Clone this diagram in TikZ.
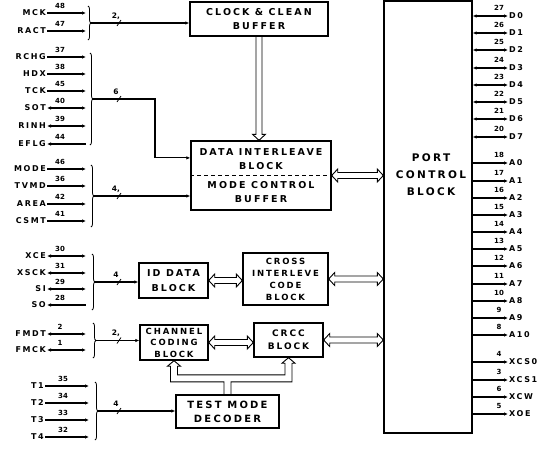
\documentclass[tikz,border=0pt]{standalone}
\usepackage{fontspec}
\setsansfont{DejaVu Sans}
\newfontfamily\lblfont[LetterSpace=20]{DejaVu Sans}
\newfontfamily\blkfont[LetterSpace=22]{DejaVu Sans}
\usetikzlibrary{arrows.meta,positioning,calc,decorations.pathreplacing}

% horizontal hollow double arrow between two points
\newcommand{\widebus}[2]{%
  \draw[hollow] (#1) -- ++(6,-6.5) -- ++(0,3.5) -- ($(#2)+(-6,-3)$) -- ++(0,-3.5) -- (#2)
    -- ++(-6,6.5) -- ++(0,-3.5) -- ($(#1)+(6,3)$) -- ++(0,3.5) -- cycle;}

\tikzset{
  buswidth/.pic={\draw[line width=.8pt] (-2,3) -- (2,-3);
    \node[busnum] (-n) at (-3,-7) {#1};}
}

\begin{document}
\begin{tikzpicture}[x=1pt,y=-1pt,>={Latex[length=4pt,width=3.5pt]},
  every node/.style={inner sep=1pt},
  block/.style={draw,line width=1.4pt,inner sep=0pt,align=center,
    font=\blkfont\bfseries\fontsize{9.5}{14}\selectfont},
  blocktext/.style={align=center,font=\blkfont\bfseries\fontsize{10.5}{17}\selectfont},
  pinname/.style={font=\lblfont\bfseries\fontsize{8}{9}\selectfont},
  pinnum/.style={font=\sffamily\bfseries\fontsize{7}{8}\selectfont,inner sep=0pt},
  busnum/.style={font=\sffamily\bfseries\fontsize{7.5}{8}\selectfont,inner sep=0pt},
  wire/.style={line width=1.1pt},
  bus/.style={line width=1.1pt,->},
  brace/.style={decorate,decoration={brace,amplitude=3pt},line width=.8pt},
  hollow/.style={draw,line width=.9pt,line join=miter}]
\fill[white] (0,0) rectangle (542,450);
\useasboundingbox (0,0) rectangle (542,450);

% blocks
\node[block,minimum width=138,minimum height=34] (clock) at (259,19) {CLOCK \& CLEAN\\BUFFER};
\node[block,minimum width=140,minimum height=69] (data) at (261,175.5)
  {DATA INTERLEAVE\\BLOCK\\[5pt]MODE CONTROL\\BUFFER};
\draw[dashed,line width=1pt,dash pattern=on 4pt off 3pt] (data.west) -- (data.east);
\node[block,minimum width=88,minimum height=432] (port) at (428,217) {};
\node[blocktext] (porttext) at (431,175) {PORT\\CONTROL\\BLOCK};
\node[block,minimum width=69,minimum height=35,font=\blkfont\bfseries\fontsize{9.5}{15}\selectfont] (iddata) at (173.5,280.5) {ID DATA\\BLOCK};
\node[block,minimum width=85,minimum height=52,font=\blkfont\bfseries\fontsize{8.5}{12}\selectfont] (cross) at (285.5,279) {CROSS\\INTERLEVE\\CODE\\BLOCK};
\node[block,minimum width=68,minimum height=35,font=\blkfont\bfseries\fontsize{8.5}{11.5}\selectfont] (channel) at (174,342.5) {CHANNEL\\CODING\\BLOCK};
\node[block,minimum width=69,minimum height=34,font=\blkfont\bfseries\fontsize{9}{13}\selectfont] (crcc) at (288.5,340) {CRCC\\BLOCK};
\node[block,minimum width=103,minimum height=33,font=\blkfont\bfseries\fontsize{10}{14}\selectfont] (decoder) at (227.5,411.5) {TEST MODE\\DECODER};

% hollow buses
\draw[hollow] ($(clock.south)+(-3,0)$) -- ($(clock.south |- data.north)+(-3,-6)$) -- ++(-3.5,0)
  -- (clock.south |- data.north) -- ++(6.5,-6) -- ++(-3.5,0) -- ($(clock.south)+(3,0)$);
\widebus{data.east}{port.west |- data.east}
\widebus{iddata.east}{cross.west |- iddata.east}
\widebus{cross.east}{port.west |- cross.east}
\widebus{channel.east}{crcc.west |- channel.east}
\widebus{crcc.east}{port.west |- crcc.east}
\draw[hollow] ($(decoder.north)+(-3.5,0)$) -- ++(0,-12.5) -| ($(channel.south)+(-3.5,5.5)$) -- ++(-3,0)
  -- (channel.south) -- ++(6.5,5.5) -- ++(-3,0) |- ($(decoder.north)+(0,-19.5)$)
  -| ($(crcc.south)+(-3.5,5.5)$) -- ++(-3,0) -- (crcc.south) -- ++(6.5,5.5) -- ++(-3,0)
  |- ($(decoder.north)+(3.5,-12.5)$) -- ++(0,12.5);

% left pins
\foreach \nm/\num/\yy in {MCK/48/13,RACT/47/31,RCHG/37/57,HDX/38/74,TCK/45/91,
    MODE/46/169,TVMD/36/186,AREA/42/204,CSMT/41/221} {
  \node[pinname,anchor=east] (pin\num) at (47,\yy) {\nm};
  \coordinate (end\num) at (86,\yy);
  \node[pinnum] (no\num) at (60,\yy-7) {\num};
  \draw[wire,->] (pin\num) -- (end\num);
}
\foreach \nm/\num/\yy in {SOT/40/108,RINH/39/126,XCE/30/256,XSCK/31/273,SI/29/289,
    FMDT/2/334,FMCK/1/350} {
  \node[pinname,anchor=east] (pin\num) at (47,\yy) {\nm};
  \coordinate (end\num) at (86,\yy);
  \node[pinnum] (no\num) at (60,\yy-7) {\num};
  \draw[wire,<->] (pin\num) -- (end\num);
}
\foreach \nm/\num/\yy in {EFLG/44/144,SO/28/305} {
  \node[pinname,anchor=east] (pin\num) at (47,\yy) {\nm};
  \coordinate (end\num) at (86,\yy);
  \node[pinnum] (no\num) at (60,\yy-7) {\num};
  \draw[wire,<-] (pin\num) -- (end\num);
}
\foreach \nm/\num/\yy in {T1/35/386,T2/34/403,T3/33/420,T4/32/437} {
  \node[pinname,anchor=east] (pin\num) at (45,\yy) {\nm};
  \coordinate (end\num) at (89,\yy);
  \node[pinnum] (no\num) at (63,\yy-7) {\num};
  \draw[wire,->] (pin\num) -- (end\num);
}

% braces and buses to the blocks
\draw[brace] (88,6) -- (88,40);     \coordinate (g1) at (91,23);
\draw[brace] (90,53) -- (90,145);   \coordinate (g2) at (93,99);
\draw[brace] (91,165) -- (91,227);  \coordinate (g3) at (94,196);
\draw[brace] (92,254) -- (92,310);  \coordinate (g4) at (95,282);
\draw[brace] (93,323) -- (93,358);  \coordinate (g5) at (96,340.5);
\draw[brace] (95,382) -- (95,440);  \coordinate (g6) at (98,411);
\draw[bus] (g1) -- (clock.west |- g1);
\draw[bus] (g2) -- ++(62,0) |- ($(data.north west)!.25!(data.south west)$);
\draw[bus] (g3) -- (data.west |- g3);
\draw[bus] (g4) -- (iddata.west |- g4);
\draw[bus] (g5) -- (channel.west |- g5);
\draw[bus] (g6) -- (decoder.west |- g6);
\pic (w1) at ($(g1)+(28,0)$) {buswidth={2,}};
\pic (w2) at ($(g2)+(26,0)$) {buswidth=6};
\pic (w3) at ($(g3)+(25,0)$) {buswidth={4,}};
\pic (w4) at ($(g4)+(24,0)$) {buswidth=4};
\pic (w5) at ($(g5)+(23,0)$) {buswidth={2,}};
\pic (w6) at ($(g6)+(21,0)$) {buswidth=4};

% right pins
\foreach \nm/\num/\yy in {D0/27/16,D1/26/33,D2/25/50,D3/24/68,D4/23/85,D5/22/102,
    D6/21/119,D7/20/137} {
  \coordinate (end\num) at (508,\yy);
  \draw[wire,<->] (port.east |- end\num) -- (end\num);
  \node[pinname,anchor=west] (pin\num) at (end\num) {\nm};
  \node[pinnum] (no\num) at (499,\yy-8.5) {\num};
}
\foreach \nm/\num/\yy in {A0/18/163,A1/17/181,A2/16/198,A3/15/215,A4/14/232,A5/13/249,
    A6/12/266,A7/11/284,A8/10/301,A9/9/318,A10/8/335,XCS0/4/362,XCS1/3/380,XCW/6/397,XOE/5/414} {
  \coordinate (end\num) at (508,\yy);
  \draw[wire,->] (port.east |- end\num) -- (end\num);
  \node[pinname,anchor=west] (pin\num) at (end\num) {\nm};
  \node[pinnum] (no\num) at (499,\yy-8.5) {\num};
}
\end{tikzpicture}
\end{document}
